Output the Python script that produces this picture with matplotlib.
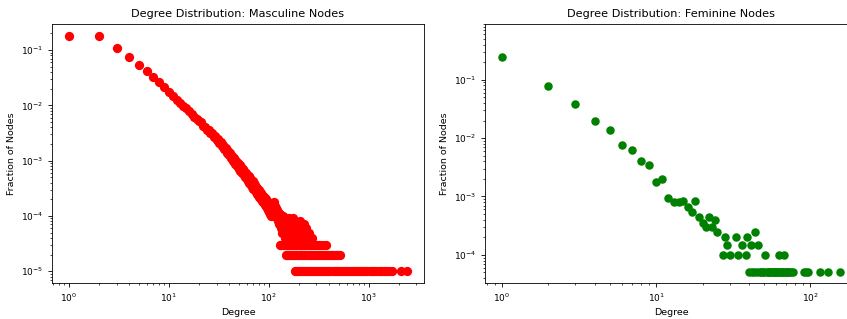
import numpy as np
import matplotlib
matplotlib.use("Agg")
import matplotlib.pyplot as plt

# =========================
# Data (counts)
# =========================
masc_nodes = 100000
masc_degree = [
    1, 2, 3, 4, 5, 6, 7, 8, 9, 10,
    11, 12, 13, 14, 15, 16, 17, 18, 19, 20,
    21, 22, 23, 24, 25, 26, 27, 28, 29, 30,
    31, 32, 33, 34, 35, 36, 37, 38, 39, 40,
    41, 42, 43, 44, 45, 46, 47, 48, 49, 50,
    51, 52, 53, 54, 55, 56, 57, 58, 59, 60,
    61, 62, 63, 64, 65, 66, 67, 68, 69, 70,
    71, 72, 73, 74, 75, 76, 77, 78, 79, 80,
    81, 82, 83, 84, 85, 86, 87, 88, 89, 90,
    91, 92, 93, 94, 95, 96, 97, 98, 99, 100,
    101, 102, 103, 104, 105, 106, 107, 108, 109, 110,
]
masc_count = [
    18000, 18100, 10900, 7600, 5400, 4200, 3200, 2600, 2150, 1720,
    1470, 1260, 1120, 990, 890, 780, 700, 620, 570, 515,
    490, 425, 410, 360, 360, 310, 310, 270, 275, 235,
    245, 205, 215, 182, 190, 160, 168, 140, 152, 126,
    136, 110, 121, 98, 112, 88, 100, 80, 91, 72,
    83, 66, 77, 60, 70, 55, 65, 51, 60, 46,
    55, 42, 52, 39, 48, 36, 45, 33, 42, 31,
    39, 29, 37, 27, 34, 25, 32, 24, 30, 22,
    27, 21, 26, 20, 24, 19, 23, 18, 22, 17,
    21, 16, 20, 15, 19, 14, 18, 13, 17, 16,
    12, 17, 11, 15, 14, 10, 15, 13, 10, 14,
]

# high-degree blob (4+ nodes each)
masc_blob_degree = [
    111, 112, 113, 114, 115, 116, 117, 118, 119, 120,
    121, 122, 123, 124, 125, 126, 127, 129, 130, 131,
    132, 134, 136, 137, 138, 140, 142, 143, 145, 146,
    148, 149, 150, 153, 155, 156, 159, 160, 163, 165,
    167, 170, 172, 175, 177, 181, 183, 187, 190, 194,
    197, 200, 204, 208, 213, 216, 220, 225, 229, 233,
    238, 244, 250, 258, 268,
]
masc_blob_count = [
    14, 18, 12, 16, 11, 15, 13, 10, 14, 12,
    9, 13, 11, 8, 12, 10, 7, 11, 9, 6,
    10, 8, 5, 9, 7, 10, 6, 8, 4, 9,
    7, 5, 8, 6, 4, 7, 9, 5, 8, 6,
    4, 7, 5, 9, 6, 4, 8, 5, 7, 4,
    6, 5, 8, 4, 6, 5, 4, 7, 5, 4,
    6, 4, 5, 4, 4,
]
masc_deg_c3 = [128, 133, 139, 144, 151, 157, 162, 168, 174, 180, 186, 192,
               199, 206, 212, 219, 227, 235, 243, 252, 262, 273, 284, 296,
               310, 325, 345, 375]
masc_deg_c2 = [147, 152, 158, 164, 171, 178, 185, 193, 201, 209, 217, 226,
               236, 245, 256, 266, 278, 290, 302, 315, 330, 343, 358, 374,
               390, 407, 425, 445, 466, 490, 520]
masc_deg_c1 = [182, 189, 196, 203, 211, 218, 228, 237, 247, 259, 271, 283,
               298, 312, 327, 342, 360, 377, 395, 414, 434, 455, 477, 500,
               524, 549, 576, 604, 633, 664, 696, 730, 766, 803, 842, 883,
               926, 972, 1021, 1075, 1130, 1190, 1255, 1330, 1410, 1500,
               1600, 1700, 2100, 2420]

fem_nodes = 20000
fem_degree = [
    1, 2, 3, 4, 5, 6, 7, 8, 9, 10,
    11, 12, 13, 14, 15, 16, 17, 18, 19, 20,
    21, 22, 23, 24, 25, 27, 28, 29, 30, 33,
    34, 36, 38, 39, 41, 44, 46, 51, 63, 68,
]
fem_count = [
    4830, 1556, 776, 396, 274, 152, 126, 82, 68, 36,
    40, 19, 16, 16, 17, 13, 11, 17, 9, 7,
    6, 9, 6, 8, 5, 2, 4, 3, 2, 4,
    2, 3, 2, 4, 3, 5, 3, 2, 2, 2,
]
fem_deg_c1 = [40, 42, 43, 45, 47, 48, 49, 50, 52, 53, 54, 55, 56, 57, 58,
              59, 60, 61, 62, 64, 65, 66, 67, 69, 70, 71, 72, 73, 75, 77,
              91, 94, 97, 116, 130, 156]

# =========================
# Assemble
# =========================
m_x = masc_degree + masc_blob_degree + masc_deg_c3 + masc_deg_c2 + masc_deg_c1
m_c = (masc_count + masc_blob_count + [3] * len(masc_deg_c3)
       + [2] * len(masc_deg_c2) + [1] * len(masc_deg_c1))
m_y = np.array(m_c) / masc_nodes

f_x = fem_degree + fem_deg_c1
f_c = fem_count + [1] * len(fem_deg_c1)
f_y = np.array(f_c) / fem_nodes

# =========================
# Plot
# =========================
fig = plt.figure(figsize=(8.47, 3.19), dpi=100)
ax1 = fig.add_axes([52 / 847, 36 / 319, 372 / 847, 259 / 319])
ax2 = fig.add_axes([485 / 847, 36 / 319, 372 / 847, 259 / 319])

ax1.scatter(m_x, m_y, color="red", s=32)
ax2.scatter(f_x, f_y, color="green", s=26)

for ax, title in [(ax1, "Degree Distribution: Masculine Nodes"),
                  (ax2, "Degree Distribution: Feminine Nodes")]:
    ax.set_xscale("log")
    ax.set_yscale("log")
    ax.set_title(title, fontsize=8.1, pad=5)
    ax.set_xlabel("Degree", fontsize=6.8, labelpad=3)
    ax.set_ylabel("Fraction of Nodes", fontsize=6.8, labelpad=4)
    ax.tick_params(which="major", labelsize=6.5, length=2.6, width=0.6)
    ax.tick_params(which="minor", length=1.5, width=0.5)
    for sp in ax.spines.values():
        sp.set_linewidth(0.6)

ax2.set_ylim(3.3e-5, 0.9)

fig.savefig("out.png", dpi=100)
